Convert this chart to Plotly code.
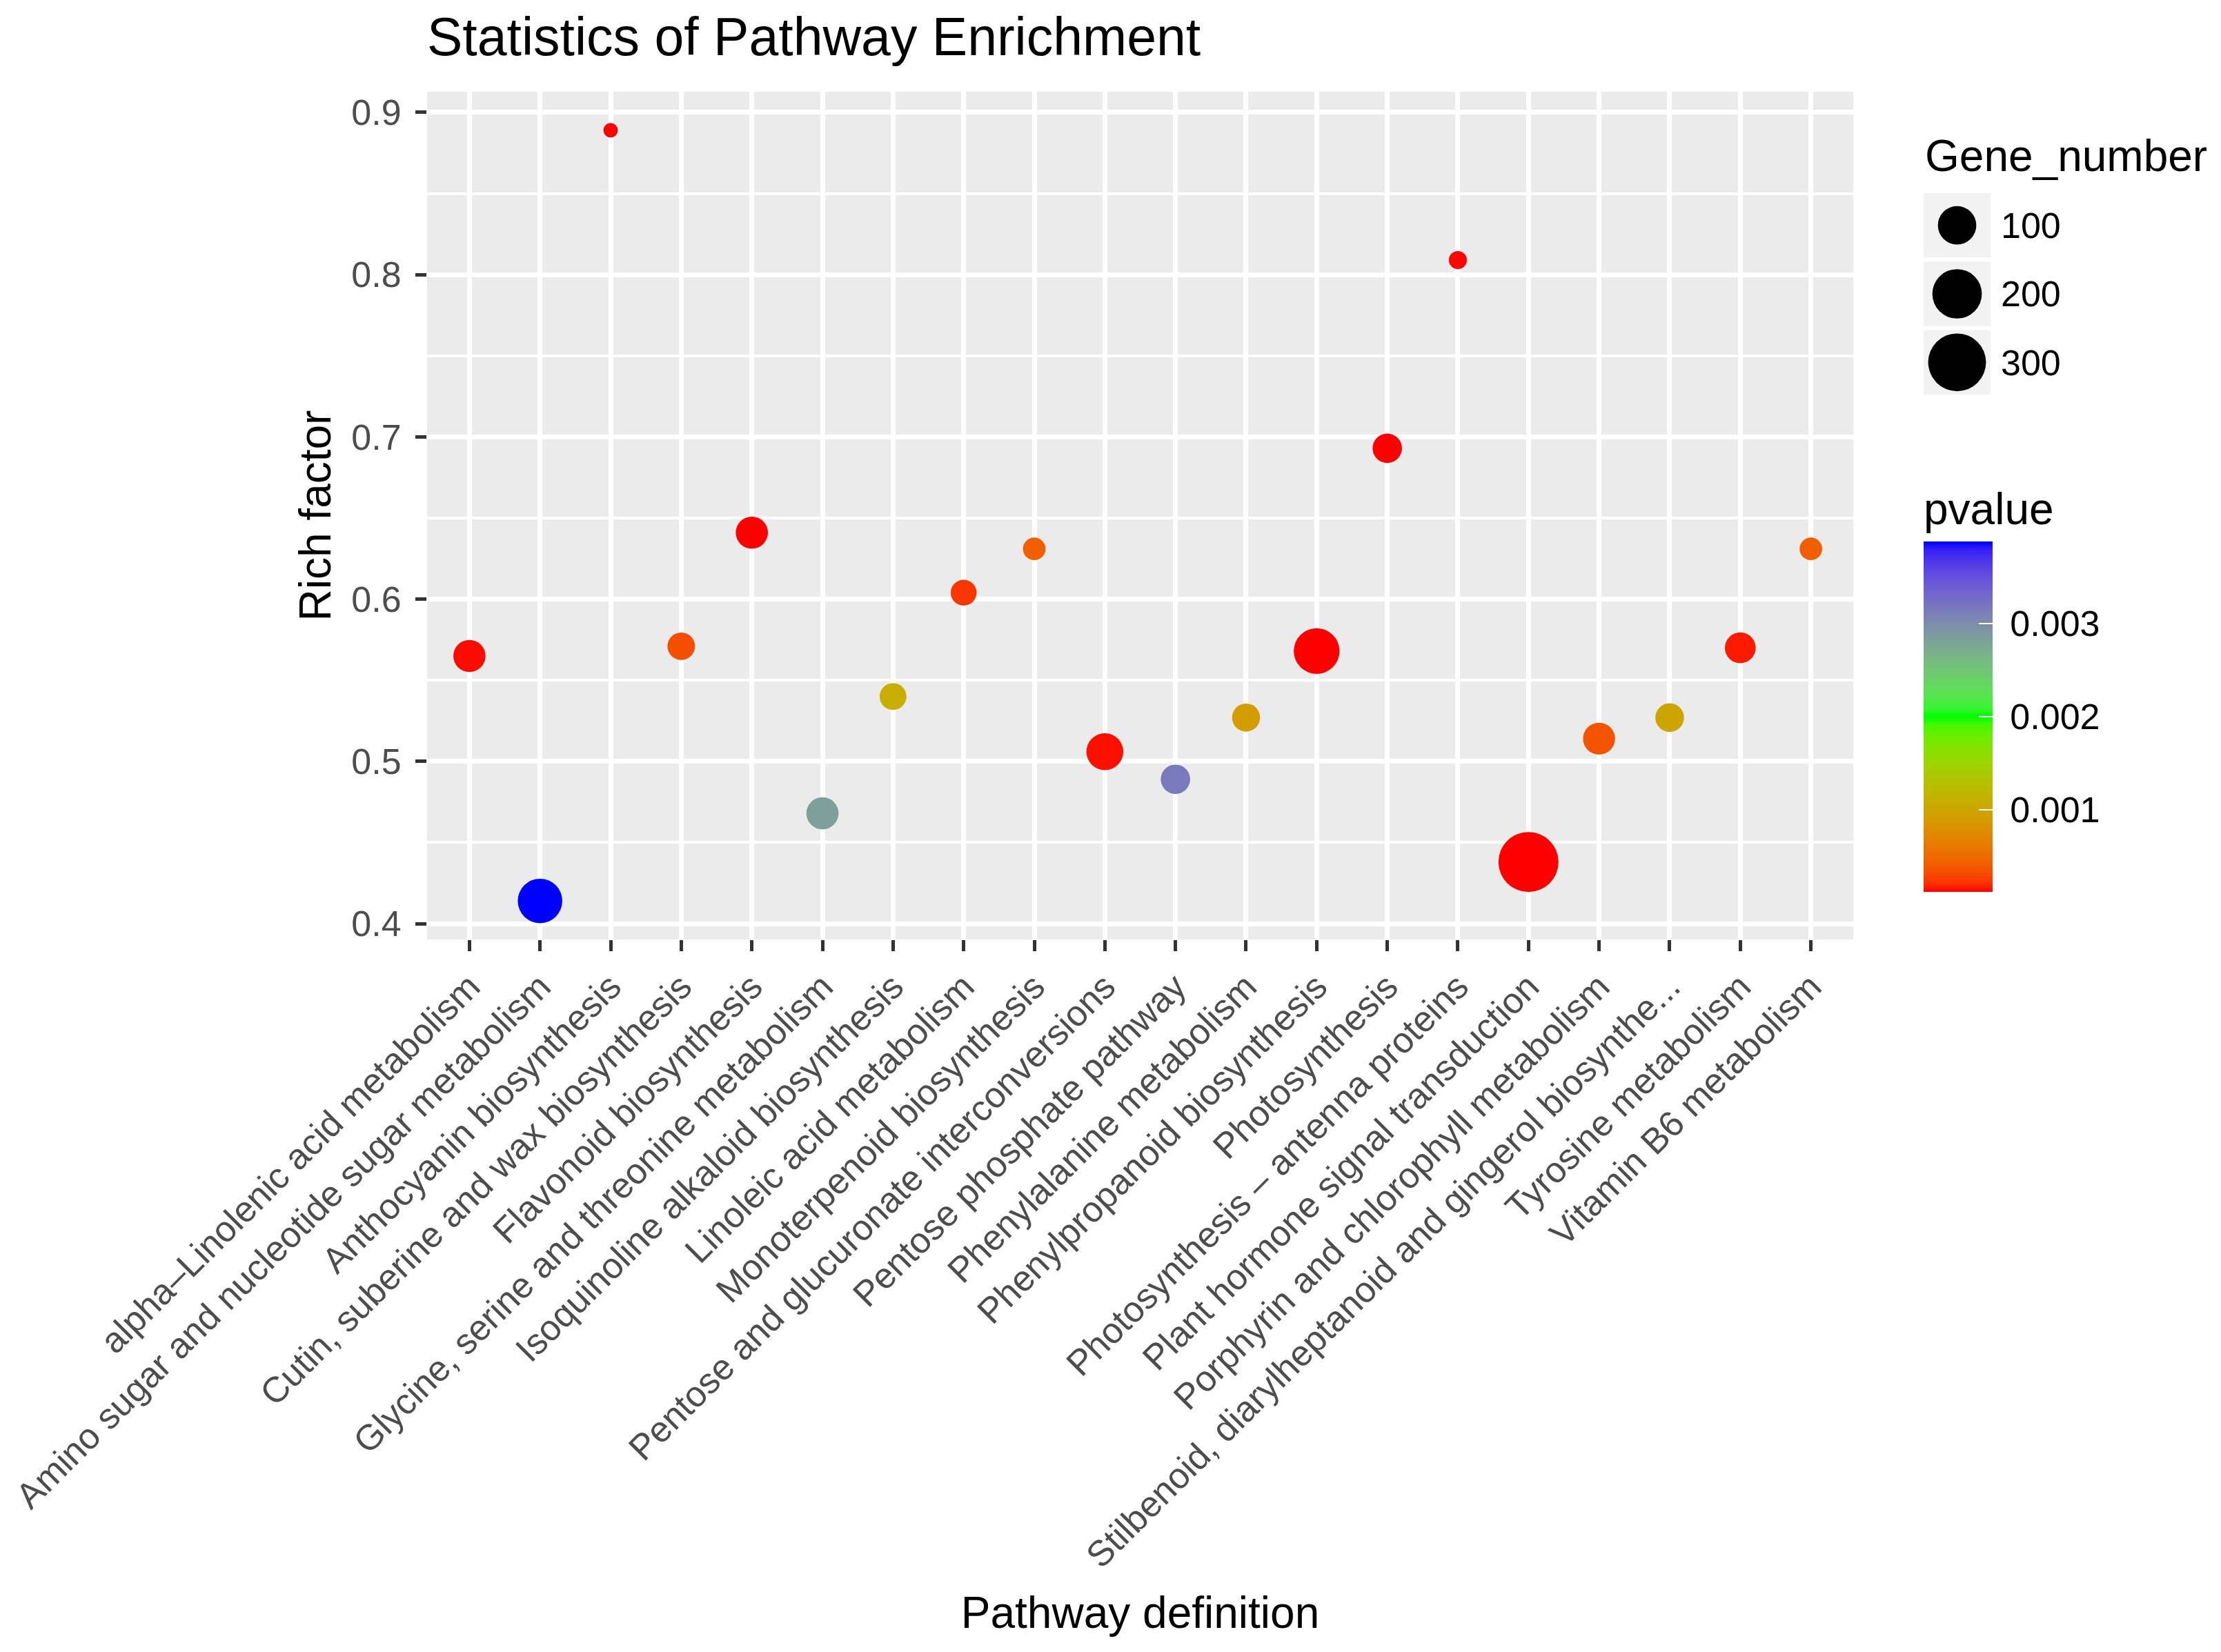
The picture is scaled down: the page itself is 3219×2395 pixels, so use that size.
import numpy as np
import plotly.graph_objects as go

# pathway enrichment data
pathways = [
    "alpha–Linolenic acid metabolism",
    "Amino sugar and nucleotide sugar metabolism",
    "Anthocyanin biosynthesis",
    "Cutin, suberine and wax biosynthesis",
    "Flavonoid biosynthesis",
    "Glycine, serine and threonine metabolism",
    "Isoquinoline alkaloid biosynthesis",
    "Linoleic acid metabolism",
    "Monoterpenoid biosynthesis",
    "Pentose and glucuronate interconversions",
    "Pentose phosphate pathway",
    "Phenylalanine metabolism",
    "Phenylpropanoid biosynthesis",
    "Photosynthesis",
    "Photosynthesis – antenna proteins",
    "Plant hormone signal transduction",
    "Porphyrin and chlorophyll metabolism",
    "Stilbenoid, diarylheptanoid and gingerol biosynthe...",
    "Tyrosine metabolism",
    "Vitamin B6 metabolism",
]
rich_factor = [0.565, 0.414, 0.889, 0.571, 0.641, 0.468, 0.540, 0.604, 0.631, 0.506,
               0.489, 0.527, 0.568, 0.693, 0.809, 0.438, 0.514, 0.527, 0.570, 0.631]
gene_number = [60, 150, 12, 38, 60, 60, 35, 32, 22, 89,
               46, 40, 162, 46, 14, 330, 59, 43, 53, 22]
pvalue = [0.00013, 0.00388, 0.00011, 0.00032, 0.00011, 0.00282, 0.00108, 0.00022, 0.00042, 0.00014,
          0.00315, 0.00092, 0.00011, 0.00011, 0.00012, 0.00011, 0.00035, 0.00100, 0.00016, 0.00042]

size_breaks = [100, 200, 300]
p_ticks = [0.001, 0.002, 0.003]

FONT = "Liberation Sans, Arial, sans-serif"
# page body has an 8px margin, so the figure is a bit smaller than the window
W, H = 3219 - 16, 2395 - 16
L, R, T, B = 611, 292, 125, 1025
PW, PH = W - L - R, H - T - B
PB = H - B  # plot bottom, px from top


# ggplot-like area scale for point diameters
gmin, gmax = min(gene_number), max(gene_number)
def diam(g):
    return 21 + 66 * np.sqrt((g - gmin) / (gmax - gmin))


# red -> green -> blue gradient interpolated in Lab space (as ggplot does)
def hex_to_lab(h):
    c = np.array([int(h[i:i + 2], 16) for i in (1, 3, 5)]) / 255.0
    c = np.where(c <= 0.04045, c / 12.92, ((c + 0.055) / 1.055) ** 2.4)
    m = np.array([[0.4124, 0.3576, 0.1805], [0.2126, 0.7152, 0.0722], [0.0193, 0.1192, 0.9505]])
    xyz = m @ c / np.array([0.95047, 1.0, 1.08883])
    f = np.where(xyz > 0.008856, np.cbrt(xyz), 7.787 * xyz + 16 / 116)
    return np.array([116 * f[1] - 16, 500 * (f[0] - f[1]), 200 * (f[1] - f[2])])

def lab_to_rgb(lab):
    fy = (lab[0] + 16) / 116
    f = np.array([fy + lab[1] / 500, fy, fy - lab[2] / 200])
    xyz = np.where(f ** 3 > 0.008856, f ** 3, (f - 16 / 116) / 7.787) * np.array([0.95047, 1.0, 1.08883])
    mi = np.array([[3.2406, -1.5372, -0.4986], [-0.9689, 1.8758, 0.0415], [0.0557, -0.2040, 1.0570]])
    c = mi @ xyz
    c = np.where(c <= 0.0031308, 12.92 * c, 1.055 * np.clip(c, 0, None) ** (1 / 2.4) - 0.055)
    c = np.clip(np.round(c * 255), 0, 255).astype(int)
    return "rgb(%d,%d,%d)" % tuple(c)

anchors = [hex_to_lab(h) for h in ["#FF0000", "#00FF00", "#0000FF"]]
colorscale = []
for s in np.linspace(0, 1, 41):
    seg = min(int(s * 2), 1)
    t = s * 2 - seg
    colorscale.append([float(s), lab_to_rgb(anchors[seg] * (1 - t) + anchors[seg + 1] * t)])

ypad = 0.05 * (max(rich_factor) - min(rich_factor))

fig = go.Figure()

fig.add_trace(go.Scatter(
    x=pathways, y=rich_factor, mode="markers",
    marker=dict(
        size=[diam(g) for g in gene_number],
        color=pvalue, colorscale=colorscale,
        cmin=min(pvalue), cmax=max(pvalue),
        line=dict(width=0), opacity=1,
        colorbar=dict(
            x=(2780 - L) / PW, xanchor="left", xpad=0,
            y=(PB - 993) / PH, yanchor="middle", ypad=0,
            thickness=100, len=585, lenmode="pixels",
            outlinewidth=0,
            tickvals=p_ticks, ticktext=[" %.3f" % v for v in p_ticks],
            ticks="inside", ticklen=20, tickwidth=2, tickcolor="white",
            tickfont=dict(family=FONT, size=52, color="black"),
            title=dict(text="pvalue", side="top", font=dict(family=FONT, size=64, color="black")),
        ),
    ),
    showlegend=False,
))

# size legend drawn on a small helper axis
fig.add_trace(go.Scatter(
    x=[0] * len(size_breaks), y=[str(v) for v in size_breaks], mode="markers",
    marker=dict(size=[diam(v) for v in size_breaks], color="#000000", opacity=1, line=dict(width=0)),
    xaxis="x2", yaxis="y2", showlegend=False, hoverinfo="skip",
))

shapes = [dict(type="rect", xref="x domain", yref="y domain", x0=0, x1=1, y0=0, y1=1,
               fillcolor="#EBEBEB", line=dict(width=0), layer="below")]
for i in range(len(size_breaks)):
    shapes.append(dict(type="rect", xref="x2", yref="y2", x0=-0.5, x1=0.5, y0=i - 0.47, y1=i + 0.47,
                       fillcolor="#F2F2F2", line=dict(width=0), layer="below"))

fig.update_layout(
    width=W, height=H,
    margin=dict(l=L, r=R, t=T, b=B),
    paper_bgcolor="white", plot_bgcolor="rgba(0,0,0,0)",
    font=dict(family=FONT, color="black"),
    title=dict(text="Statistics of Pathway Enrichment", x=0, xref="paper", xanchor="left",
               y=1 - 45 / H, yref="container", yanchor="middle",
               font=dict(family=FONT, size=77, color="black")),
    xaxis=dict(
        domain=[0, (2678 - L) / PW], type="category", range=[-0.6, len(pathways) - 0.4],
        showgrid=True, gridcolor="white", gridwidth=6.5, zeroline=False, showline=False,
        ticks="outside", ticklen=16, tickwidth=5, tickcolor="#333333",
        tickangle=-45, tickfont=dict(family=FONT, size=52, color="#4D4D4D"),
        title=dict(text="Pathway definition", font=dict(family=FONT, size=64, color="black"), standoff=32),
        automargin=False,
    ),
    yaxis=dict(
        range=[min(rich_factor) - ypad, max(rich_factor) + ypad],
        tickvals=[0.4, 0.5, 0.6, 0.7, 0.8, 0.9], tickformat=".1f",
        showgrid=True, gridcolor="white", gridwidth=6.5, zeroline=False, showline=False,
        minor=dict(dtick=0.05, tick0=0.45, showgrid=True, gridcolor="white", gridwidth=3.5, ticks=""),
        ticks="outside", ticklen=16, tickwidth=5, tickcolor="#333333", ticklabelstandoff=10,
        tickfont=dict(family=FONT, size=52, color="#4D4D4D"),
        title=dict(text="Rich factor", font=dict(family=FONT, size=64, color="black"), standoff=8),
        automargin=False,
    ),
    xaxis2=dict(domain=[(2780 - L) / PW, (2877 - L) / PW], anchor="y2", range=[-0.5, 0.5],
                showgrid=False, zeroline=False, showticklabels=False, ticks="", fixedrange=True),
    yaxis2=dict(domain=[(PB - 567) / PH, (PB - 269) / PH], anchor="x2", type="category",
                range=[len(size_breaks) - 0.5, -0.5], side="right",
                showgrid=False, zeroline=False, ticks="", ticklabelstandoff=14,
                tickfont=dict(family=FONT, size=52, color="black"), fixedrange=True),
    shapes=shapes,
    annotations=[dict(text="Gene_number", xref="paper", yref="paper",
                      x=(2780 - L) / PW, y=(PB - 218) / PH, xanchor="left", yanchor="middle",
                      showarrow=False, font=dict(family=FONT, size=64, color="black"))],
)

fig.write_html("out.html")
